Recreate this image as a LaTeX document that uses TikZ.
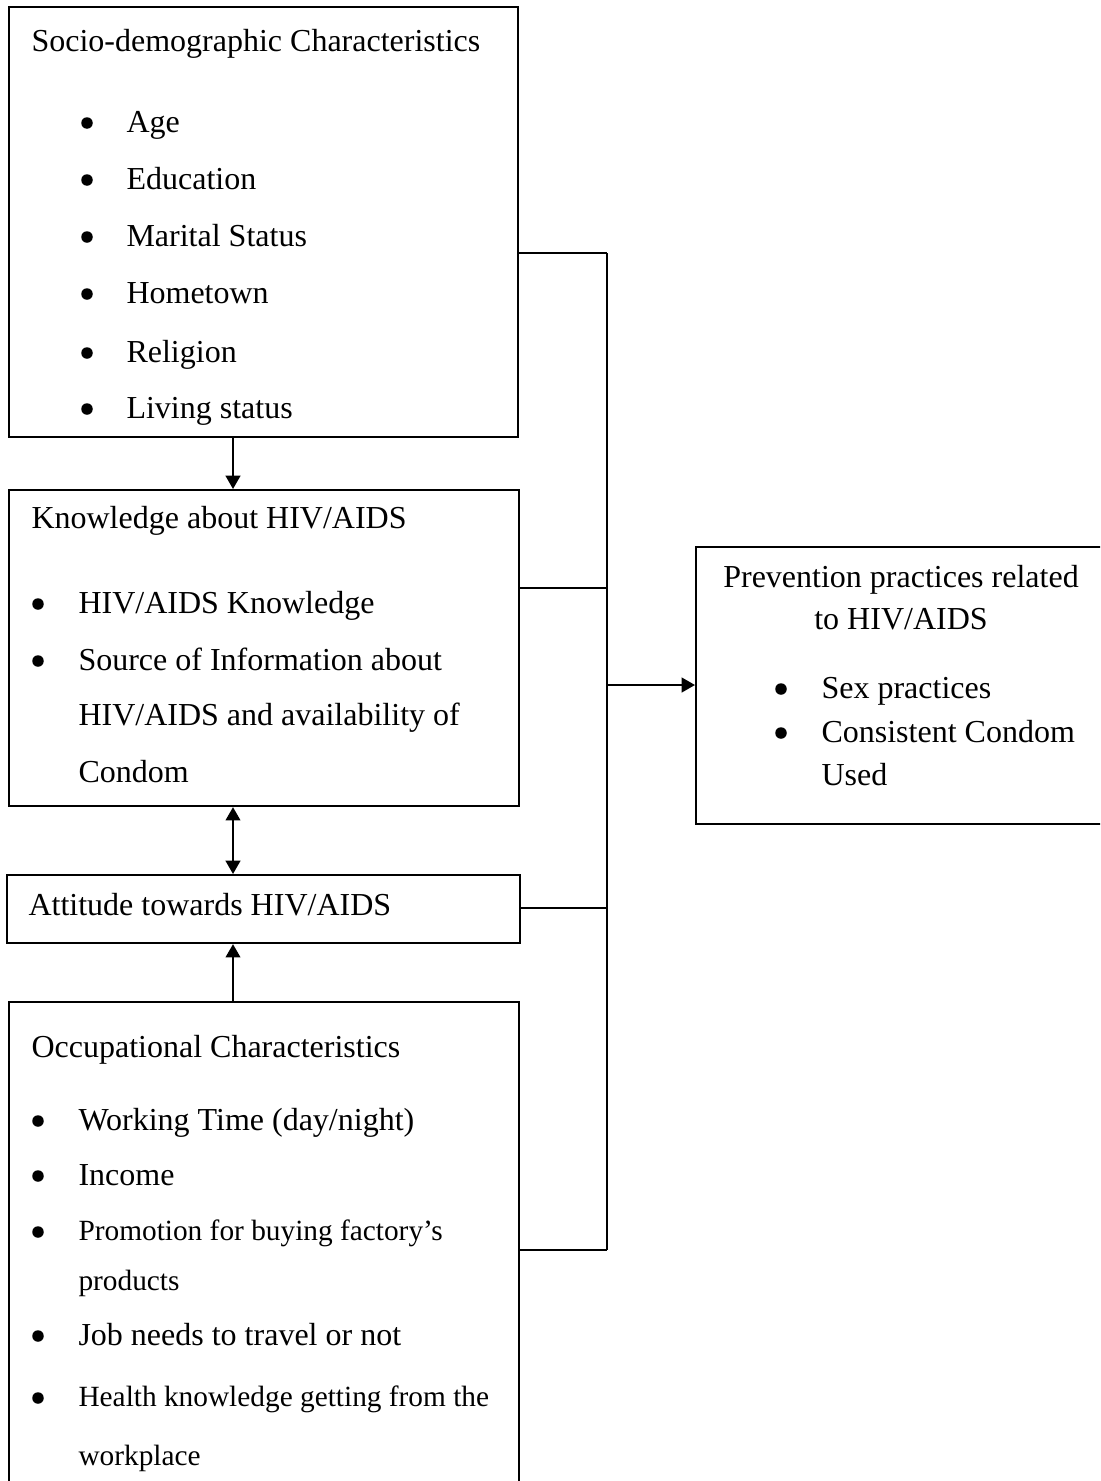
\documentclass[tikz,border=0pt]{standalone}
\usepackage{fontspec}
\setmainfont{Liberation Serif}
\usepackage{tikz}
\usetikzlibrary{arrows.meta}
\newcommand{\px}{0.375pt}
\tikzstyle{frame}=[
  draw, line width=0.8pt, anchor=north west, inner sep=0pt
]
\tikzstyle{txt}=[
  anchor=base west, inner sep=0pt, font=\fontsize{12}{14}\selectfont
]
\tikzstyle{smalltxt}=[
  anchor=base west, inner sep=0pt, font=\fontsize{11}{13}\selectfont
]
\tikzstyle{ctxt}=[
  anchor=base, inner sep=0pt, font=\fontsize{12}{14}\selectfont
]
\tikzstyle{dot}=[
  circle, fill, inner sep=0pt, minimum size=11.5*\px
]
\tikzstyle{link}=[
  line width=0.8pt
]
\tikzstyle{arr}=[
  line width=0.8pt, -{Triangle[length=5pt,width=5.5pt]}
]
\tikzstyle{dblarr}=[
  line width=0.8pt, {Triangle[length=5pt,width=5.5pt]}-{Triangle[length=5pt,width=5.5pt]}
]

\begin{document}
\begin{tikzpicture}[x=\px, y=-\px]
  \useasboundingbox (0,0) rectangle (1100,1481);
  \clip (0,0) rectangle (1100,1481);

  % boxes
  \node (socio) at (8,6) [frame, minimum width=509*\px, minimum height=430*\px] {};
  \node (know) at (8,489) [frame, minimum width=510*\px, minimum height=316*\px] {};
  \node (att) at (6,874) [frame, minimum width=513*\px, minimum height=68*\px] {};
  \node (occ) at (8,1001) [frame, minimum width=510*\px, minimum height=520*\px] {};
  \node (prev) at (695,546) [frame, minimum width=415*\px, minimum height=277*\px] {};

  % socio-demographic characteristics
  \node (sociot) at (31,52) [txt] {Socio-demographic Characteristics};
  \node (sb1) at (87,123) [dot] {};
  \node (age) at (126,132) [txt] {Age};
  \node (sb2) at (87,180) [dot] {};
  \node (edu) at (126,189) [txt] {Education};
  \node (sb3) at (87,237) [dot] {};
  \node (mar) at (126,246) [txt] {Marital Status};
  \node (sb4) at (87,294) [dot] {};
  \node (home) at (126,303) [txt] {Hometown};
  \node (sb5) at (87,353) [dot] {};
  \node (rel) at (126,362) [txt] {Religion};
  \node (sb6) at (87,409) [dot] {};
  \node (liv) at (126,418) [txt] {Living status};

  % knowledge
  \node (knowt) at (31,528) [txt] {Knowledge about HIV/AIDS};
  \node (kb1) at (38,604) [dot] {};
  \node (hivk) at (78,613) [txt] {HIV/AIDS Knowledge};
  \node (kb2) at (38,661) [dot] {};
  \node (src1) at (78,670) [txt] {Source of Information about};
  \node (src2) at (78,725) [txt] {HIV/AIDS and availability of};
  \node (src3) at (78,782) [txt] {Condom};

  % attitude
  \node (attt) at (28,915) [txt] {Attitude towards HIV/AIDS};

  % occupational characteristics
  \node (occt) at (31,1057) [txt] {Occupational Characteristics};
  \node (ob1) at (38,1121) [dot] {};
  \node (work) at (78,1130) [txt] {Working Time (day/night)};
  \node (ob2) at (38,1176) [dot] {};
  \node (inc) at (78,1185) [txt] {Income};
  \node (ob3) at (38,1232) [dot] {};
  \node (promo1) at (78,1240) [smalltxt] {Promotion for buying factory’s};
  \node (promo2) at (78,1290) [smalltxt] {products};
  \node (ob4) at (38,1336) [dot] {};
  \node (job) at (78,1345) [txt] {Job needs to travel or not};
  \node (ob5) at (38,1398) [dot] {};
  \node (health1) at (78,1406) [smalltxt] {Health knowledge getting from the};
  \node (health2) at (78,1465) [smalltxt] {workplace};

  % prevention practices
  \node (prevt1) at (901,587) [ctxt] {Prevention practices related};
  \node (prevt2) at (901,629) [ctxt] {to HIV/AIDS};
  \node (pb1) at (781,689) [dot] {};
  \node (sex) at (821,698) [txt] {Sex practices};
  \node (pb2) at (781,733) [dot] {};
  \node (cond1) at (821,742) [txt] {Consistent Condom};
  \node (cond2) at (821,785) [txt] {Used};

  % connectors
  \coordinate (ax) at (233,0);
  \coordinate (jtop) at (607,253);
  \coordinate (jknow) at (607,588);
  \coordinate (jout) at (607,685);
  \coordinate (jatt) at (607,908);
  \coordinate (jbot) at (607,1250);
  \draw [arr] (socio.south -| ax) -- (know.north -| ax);
  \draw [dblarr] (know.south -| ax) -- (att.north -| ax);
  \draw [arr] (occ.north -| ax) -- (att.south -| ax);
  \draw [link] (jtop) -- (jbot);
  \draw [link] (socio.east |- jtop) -- (jtop);
  \draw [link] (know.east |- jknow) -- (jknow);
  \draw [link] (att.east |- jatt) -- (jatt);
  \draw [link] (occ.east |- jbot) -- (jbot);
  \draw [arr] (jout) -- (prev.west |- jout);
\end{tikzpicture}
\end{document}
